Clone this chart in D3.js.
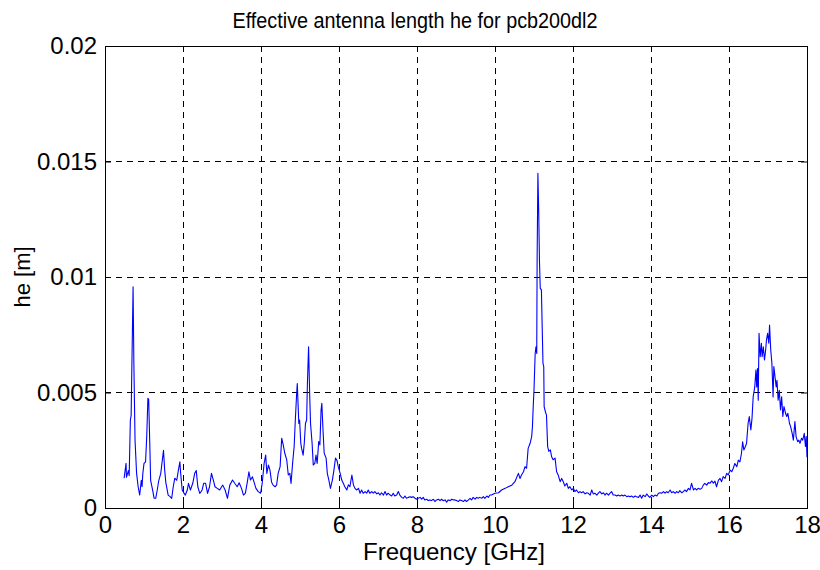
<!DOCTYPE html>
<html>
<head>
<meta charset="utf-8">
<script src="https://cdn.jsdelivr.net/npm/d3@7"></script>
<style>
  body { margin: 0; background: #fff; }
  svg text { font-family: "Liberation Sans", Arial, sans-serif; fill: #000; }
</style>
</head>
<body>
<svg id="chart" width="820" height="570"></svg>
<script>
// frequency points in GHz
var freqGHz = [
  0.49,0.54,0.55,0.60,0.62,0.65,0.67,0.72,0.74,0.77,0.81,0.85,0.89,0.93,0.95,0.97,1.00,1.04,1.07,1.10,
  1.12,1.15,1.17,1.22,1.26,1.30,1.34,1.38,1.43,1.47,1.50,1.53,1.56,1.62,1.67,1.71,1.75,1.79,1.84,1.88,
  1.92,1.94,1.98,2.03,2.06,2.11,2.14,2.19,2.25,2.30,2.34,2.38,2.43,2.49,2.53,2.58,2.63,2.68,2.73,2.78,
  2.82,2.88,2.94,2.99,3.02,3.08,3.14,3.20,3.27,3.33,3.39,3.44,3.50,3.55,3.60,3.65,3.69,3.73,3.78,3.82,
  3.87,3.93,3.99,4.03,4.08,4.12,4.15,4.19,4.23,4.27,4.31,4.36,4.40,4.44,4.49,4.53,4.57,4.61,4.66,4.70,
  4.74,4.77,4.81,4.85,4.88,4.91,4.93,4.97,4.99,5.02,5.04,5.08,5.11,5.14,5.17,5.19,5.22,5.25,5.27,5.31,
  5.34,5.38,5.41,5.44,5.48,5.51,5.54,5.56,5.59,5.62,5.67,5.70,5.74,5.78,5.83,5.87,5.91,5.95,5.98,6.03,
  6.07,6.11,6.15,6.20,6.24,6.28,6.33,6.37,6.41,6.45,6.50,6.54,6.58,6.62,6.67,6.71,6.75,6.79,6.84,6.88,
  6.92,6.97,7.01,7.05,7.09,7.14,7.18,7.22,7.26,7.31,7.35,7.39,7.43,7.48,7.52,7.56,7.61,7.65,7.69,7.73,
  7.78,7.82,7.86,7.90,7.95,7.99,8.03,8.08,8.12,8.16,8.20,8.25,8.29,8.33,8.37,8.42,8.46,8.50,8.55,8.59,
  8.63,8.67,8.72,8.76,8.80,8.85,8.89,8.93,8.97,9.02,9.06,9.10,9.14,9.19,9.23,9.27,9.32,9.36,9.40,9.44,
  9.49,9.53,9.57,9.61,9.66,9.70,9.74,9.79,9.83,9.87,9.91,10.00,10.09,10.17,10.26,10.34,10.43,10.51,10.60,10.64,
  10.68,10.73,10.77,10.81,10.85,10.90,10.94,10.96,10.98,11.00,11.03,11.05,11.07,11.08,11.10,11.12,11.14,11.16,11.19,11.21,
  11.23,11.25,11.26,11.30,11.32,11.35,11.38,11.42,11.45,11.49,11.54,11.58,11.62,11.67,11.71,11.75,11.79,11.84,11.88,11.92,
  11.97,12.01,12.05,12.09,12.14,12.18,12.22,12.26,12.31,12.35,12.39,12.44,12.48,12.52,12.56,12.61,12.65,12.69,12.74,12.78,
  12.82,12.86,12.91,12.95,12.99,13.03,13.08,13.12,13.16,13.21,13.25,13.29,13.33,13.38,13.42,13.46,13.50,13.55,13.59,13.63,
  13.68,13.72,13.76,13.80,13.85,13.89,13.93,13.97,14.02,14.06,14.10,14.15,14.19,14.23,14.27,14.32,14.36,14.40,14.44,14.49,
  14.53,14.57,14.62,14.66,14.70,14.74,14.79,14.83,14.87,14.91,14.96,15.00,15.04,15.09,15.13,15.17,15.21,15.26,15.30,15.34,
  15.38,15.43,15.47,15.51,15.56,15.60,15.64,15.68,15.73,15.77,15.81,15.85,15.90,15.94,15.98,16.03,16.07,16.11,16.15,16.20,
  16.24,16.28,16.32,16.35,16.38,16.42,16.45,16.49,16.52,16.56,16.59,16.62,16.66,16.69,16.71,16.73,16.75,16.77,16.80,16.83,
  16.85,16.88,16.91,16.94,16.96,16.99,17.02,17.04,17.07,17.10,17.13,17.15,17.18,17.21,17.23,17.26,17.29,17.32,17.35,17.38,
  17.41,17.45,17.48,17.51,17.55,17.58,17.62,17.65,17.69,17.72,17.76,17.79,17.82,17.86,17.89,17.93,17.96,17.98,18.00
];

// effective length he, in millimetres (converted to metres below)
var heMm = [
  1.29,1.93,1.33,1.62,1.40,3.81,4.00,9.58,6.30,2.94,1.50,0.92,0.56,1.20,0.92,1.50,1.93,2.00,3.09,4.75,
  4.70,2.65,1.20,0.78,0.42,0.42,0.78,1.20,1.50,2.08,2.50,1.65,1.10,0.56,0.49,0.42,0.92,1.29,1.20,1.62,
  2.00,1.50,0.78,0.63,0.56,0.78,1.07,0.78,1.07,1.50,1.62,0.92,0.63,0.78,1.07,1.07,0.63,0.92,1.50,1.20,
  0.92,0.85,0.78,0.92,0.99,0.78,0.42,0.99,1.21,1.06,0.92,1.09,0.85,0.56,0.64,1.13,1.57,1.21,1.35,1.13,
  0.85,0.71,0.64,1.06,1.93,2.29,1.50,1.86,1.64,1.13,0.99,0.92,0.99,1.50,1.79,3.02,2.73,2.37,2.08,1.43,
  1.50,1.06,1.93,2.66,3.81,4.81,5.39,3.66,3.81,2.81,2.59,2.29,2.81,3.66,3.81,5.39,6.98,4.81,3.66,2.81,
  1.86,1.93,2.29,1.93,2.88,2.73,4.24,4.53,3.38,2.37,2.16,1.50,1.21,0.85,1.21,1.64,2.16,2.05,1.79,1.50,
  1.21,1.07,0.92,0.78,1.00,0.92,1.43,1.00,0.85,0.78,0.85,0.64,0.78,0.64,0.71,0.64,0.78,0.64,0.71,0.64,
  0.71,0.61,0.66,0.56,0.66,0.56,0.71,0.56,0.64,0.56,0.52,0.64,0.52,0.56,0.71,0.56,0.46,0.42,0.52,0.42,
  0.46,0.49,0.46,0.49,0.42,0.38,0.42,0.46,0.38,0.46,0.35,0.38,0.32,0.35,0.32,0.38,0.28,0.35,0.38,0.32,
  0.38,0.32,0.35,0.25,0.35,0.32,0.38,0.35,0.35,0.32,0.28,0.35,0.32,0.28,0.35,0.28,0.35,0.42,0.35,0.46,
  0.38,0.46,0.42,0.46,0.42,0.49,0.42,0.52,0.46,0.56,0.56,0.64,0.66,0.78,0.85,0.92,0.99,1.14,1.50,1.28,
  1.43,1.57,1.79,1.72,2.58,2.80,3.09,3.52,4.39,5.11,6.69,6.98,6.69,10.70,14.49,12.90,10.70,9.51,9.44,7.85,
  6.26,6.12,4.39,4.11,4.03,2.66,2.45,2.52,2.23,2.09,2.16,1.57,1.43,1.14,1.28,1.14,0.95,1.07,0.85,0.92,
  0.78,0.85,0.71,0.78,0.66,0.71,0.66,0.71,0.61,0.66,0.64,0.56,0.78,0.61,0.64,0.56,0.64,0.71,0.61,0.66,
  0.56,0.64,0.56,0.64,0.71,0.56,0.56,0.52,0.56,0.52,0.56,0.52,0.56,0.49,0.52,0.49,0.52,0.46,0.52,0.49,
  0.46,0.56,0.42,0.56,0.49,0.61,0.52,0.46,0.56,0.49,0.56,0.52,0.64,0.66,0.64,0.71,0.64,0.71,0.66,0.78,
  0.66,0.71,0.64,0.71,0.66,0.75,0.66,0.71,0.78,0.71,0.85,0.78,1.07,0.78,0.85,0.78,0.85,0.81,0.85,0.99,
  1.07,0.99,1.10,1.07,1.17,1.08,1.16,0.92,1.21,1.28,1.14,1.36,1.28,1.50,1.43,1.64,1.57,1.72,1.93,1.79,
  2.07,2.00,2.37,2.87,2.51,2.66,2.80,3.67,3.96,3.38,3.88,4.81,5.24,5.97,5.24,6.04,4.67,7.56,6.55,7.13,
  6.55,6.98,6.41,6.84,7.27,7.56,7.13,7.92,6.84,6.26,4.81,6.12,5.68,5.24,5.53,4.67,5.10,4.24,4.81,3.96,
  4.39,4.10,3.96,4.10,3.67,3.52,3.23,2.94,3.74,3.09,2.87,2.94,2.80,3.02,2.94,3.23,2.66,3.09,2.20
];

var xTicks = [0, 2, 4, 6, 8, 10, 12, 14, 16, 18];
var yTicks = [0, 0.005, 0.01, 0.015, 0.02];
var yTickLabels = ['0', '0.005', '0.01', '0.015', '0.02'];

var titleText = 'Effective antenna length he for pcb200dl2';
var xLabelText = 'Frequency [GHz]';
var yLabelText = 'he [m]';

var data = freqGHz.map(function(f, i) {
  return { f: f, he: heMm[i] / 1000 };
});

// plot box in pixels
var plotLeft = 105, plotRight = 807, plotTop = 46, plotBottom = 508;

var svg = d3.select('#chart');
svg.append('rect').attr('width', 820).attr('height', 570).attr('fill', '#fff');

var x = d3.scaleLinear().domain([0, 18]).range([plotLeft, plotRight]);
var y = d3.scaleLinear().domain([0, 0.02]).range([plotBottom, plotTop]);

// dashed grid
var grid = svg.append('g');
grid.selectAll('line.gx')
  .data(xTicks.slice(1, -1))
  .enter().append('line')
  .attr('x1', function(d) { return x(d); })
  .attr('x2', function(d) { return x(d); })
  .attr('y1', plotTop).attr('y2', plotBottom)
  .attr('stroke', '#000').attr('stroke-width', 1)
  .attr('stroke-dasharray', '6,5')
  .attr('shape-rendering', 'crispEdges');
grid.selectAll('line.gy')
  .data(yTicks.slice(1, -1))
  .enter().append('line')
  .attr('y1', function(d) { return y(d); })
  .attr('y2', function(d) { return y(d); })
  .attr('x1', plotLeft).attr('x2', plotRight)
  .attr('stroke', '#000').attr('stroke-width', 1)
  .attr('stroke-dasharray', '6,5')
  .attr('shape-rendering', 'crispEdges');

// the curve
var line = d3.line()
  .x(function(d) { return x(d.f); })
  .y(function(d) { return y(d.he); });

svg.append('path')
  .datum(data)
  .attr('d', line)
  .attr('fill', 'none')
  .attr('stroke', '#0000ff')
  .attr('stroke-width', 1.1)
  .attr('stroke-linejoin', 'round');

// axes, ticks pointing inward like matlab
var xAxis = d3.axisBottom(x).tickValues(xTicks).tickSize(-6).tickPadding(8).tickFormat(d3.format('d'));
var yAxis = d3.axisLeft(y).tickValues(yTicks).tickSize(-6).tickPadding(8)
  .tickFormat(function(d, i) { return yTickLabels[i]; });

var gx = svg.append('g').attr('transform', 'translate(0,' + plotBottom + ')').call(xAxis);
var gy = svg.append('g').attr('transform', 'translate(' + plotLeft + ',0)').call(yAxis);
svg.append('g').attr('transform', 'translate(0,' + plotTop + ')')
  .call(d3.axisTop(x).tickValues(xTicks).tickSize(-6).tickFormat(''));
svg.append('g').attr('transform', 'translate(' + plotRight + ',0)')
  .call(d3.axisRight(y).tickValues(yTicks).tickSize(-6).tickFormat(''));

svg.selectAll('.domain').remove();
svg.selectAll('.tick line').attr('stroke', '#000');
[gx, gy].forEach(function(g) {
  g.selectAll('text').attr('font-size', 24).attr('font-family', '"Liberation Sans", Arial, sans-serif');
});

svg.append('rect')
  .attr('x', plotLeft).attr('y', plotTop)
  .attr('width', plotRight - plotLeft).attr('height', plotBottom - plotTop)
  .attr('fill', 'none').attr('stroke', '#000').attr('stroke-width', 1)
  .attr('shape-rendering', 'crispEdges');

svg.append('text')
  .attr('x', 415).attr('y', 28)
  .attr('text-anchor', 'middle').attr('font-size', 22)
  .attr('textLength', 365).attr('lengthAdjust', 'spacingAndGlyphs')
  .text(titleText);

svg.append('text')
  .attr('x', 454).attr('y', 560)
  .attr('text-anchor', 'middle').attr('font-size', 24)
  .attr('textLength', 182).attr('lengthAdjust', 'spacingAndGlyphs')
  .text(xLabelText);

svg.append('text')
  .attr('transform', 'translate(30,277) rotate(-90)')
  .attr('text-anchor', 'middle').attr('font-size', 22)
  .text(yLabelText);
</script>
</body>
</html>
